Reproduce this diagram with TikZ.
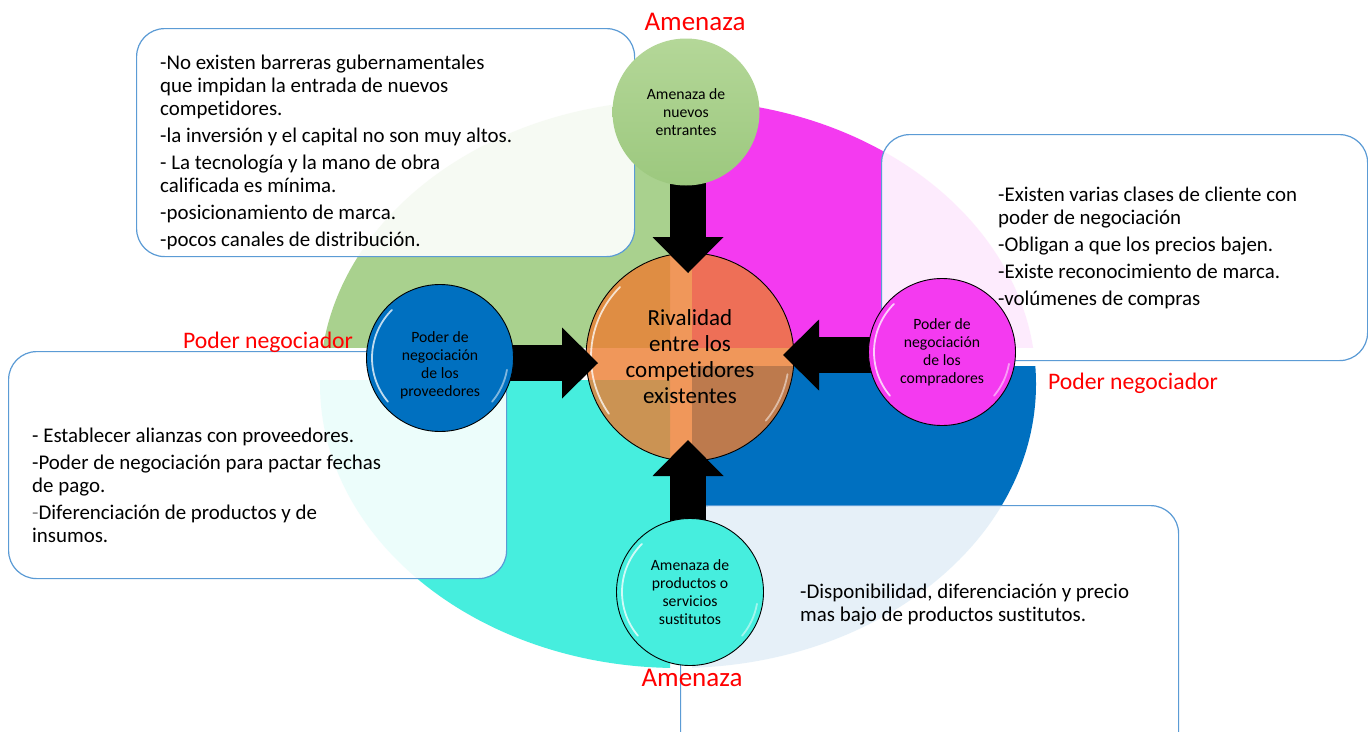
\documentclass[tikz,border=0pt]{standalone}
\usepackage{fontspec}
\setmainfont{Carlito}[Ligatures=NoCommon]
\usetikzlibrary{arrows.meta,calc}
\definecolor{qgreen}{RGB}{169,209,142}
\definecolor{qmag}{RGB}{244,58,240}
\definecolor{qcyan}{RGB}{70,238,222}
\definecolor{qblue}{RGB}{0,112,192}
\definecolor{rivorange}{RGB}{237,125,49}
\definecolor{boxline}{RGB}{91,155,213}
\definecolor{gtop}{RGB}{180,215,152}
\definecolor{gbot}{RGB}{156,200,126}
\pgfdeclarelayer{bgA}
\pgfdeclarelayer{bgB}
\pgfdeclarelayer{bgC}
\pgfdeclarelayer{bgD}
\pgfsetlayers{bgA,bgB,bgC,bgD,main}
\tikzset{
  infobox/.style={draw=boxline, line width=1.2pt, fill=white, fill opacity=0.9,
    rounded corners=28pt, rectangle, anchor=north west, inner sep=0pt},
  boxtext/.style={anchor=north west, align=left, inner sep=0pt,
    font=\fontsize{20.9}{23}\selectfont},
  redlabel/.style={text=red, inner sep=0pt},
  forcetext/.style={align=center, inner sep=0pt, font=\fontsize{15.7}{18}\selectfont},
  force/.style={circle, draw=black, line width=0.9pt, minimum size=147pt,
    inner sep=0pt, forcetext},
  gloss/.style={white, opacity=0.75, line width=1.8pt, line cap=round},
  forcearrow/.style={line width=36pt,
    -{Triangle[length=36pt 0 0, width=71pt 0 0, line width=0pt]}}
}
\begin{document}
\begin{tikzpicture}[x=1pt,y=-1pt]
\useasboundingbox (0,0) rectangle (1368,731);

% background disc split into four coloured quadrants
\begin{pgfonlayer}{bgA}
  \fill[white] (0,0) rectangle (1368,731);
  \begin{scope}
    \clip (0,0) rectangle (670,347);
    \fill[qgreen] (678,384) ellipse [x radius=358, y radius=284];
  \end{scope}
  \begin{scope}
    \clip (692,0) rectangle (1368,347);
    \fill[qmag] (678,384) ellipse [x radius=358, y radius=284];
  \end{scope}
  \begin{scope}
    \clip (0,380) rectangle (670,731);
    \fill[qcyan] (678,384) ellipse [x radius=358, y radius=284];
  \end{scope}
  \begin{scope}
    \clip (692,366) rectangle (1368,731);
    \fill[qblue] (678,384) ellipse [x radius=358, y radius=284];
  \end{scope}
\end{pgfonlayer}

% translucent text panels
\begin{pgfonlayer}{bgB}
  \node[infobox, minimum width=498pt, minimum height=228pt] (boxN) at (136,28) {};
  \node[infobox, minimum width=486pt, minimum height=226pt] (boxE) at (881,134) {};
  \node[infobox, minimum width=498pt, minimum height=227pt] (boxW) at (8,351) {};
  \node[infobox, minimum width=498pt, minimum height=260pt] (boxS) at (680,505) {};
\end{pgfonlayer}

% central rivalry circle
\begin{pgfonlayer}{bgC}
  \node[circle, draw=black, line width=0.9pt, fill=rivorange, fill opacity=0.8,
    text opacity=1, minimum size=208pt, inner sep=0pt, align=center,
    font=\fontsize{23}{26}\selectfont] (riv) at (690,357)
    {Rivalidad\\entre los\\competidores\\existentes};
  \draw[gloss] ($(riv.center)+(145:99)$) arc[start angle=145, end angle=225, radius=99];
  \draw[gloss, opacity=0.5] ($(riv.center)+(10:99)$) arc[start angle=10, end angle=40, radius=99];
\end{pgfonlayer}

% the four forces
\node[force, draw=none, top color=gtop, bottom color=gbot] (nA) at (686,112)
  {Amenaza de\\nuevos\\entrantes};
\node[force, fill=qblue] (nP) at (440,358) {};
\node[forcetext] (nPtext) at ([yshift=-7pt]nP.center)
  {Poder de\\negociación\\de los\\proveedores};
\node[force, fill=qmag] (nC) at (942,352)
  {Poder de\\negociación\\de los\\compradores};
\node[force, fill=qcyan] (nS) at (690,592)
  {Amenaza de\\productos o\\servicios\\sustitutos};

\foreach \n in {nP,nC,nS}{
  \draw[gloss] ($(\n.center)+(140:68)$) arc[start angle=140, end angle=225, radius=68];
  \draw[gloss, opacity=0.5] ($(\n.center)+(10:68)$) arc[start angle=10, end angle=40, radius=68];
}

% arrows pointing to the centre
\coordinate (tipN) at (688,273);
\coordinate (tipW) at (598,363);
\coordinate (tipE) at (783,355);
\coordinate (tipS) at (688,440);
\begin{pgfonlayer}{bgD}
  \draw[forcearrow] (tipN |- nA.center) -- (tipN);
  \draw[forcearrow] (tipW -| nP.center) -- (tipW);
  \draw[forcearrow] (tipE -| nC.center) -- (tipE);
  \draw[forcearrow] (tipS |- nS.center) -- (tipS);
\end{pgfonlayer}

% red headings
\node[redlabel, font=\fontsize{27}{30}\selectfont] (hN) at (695,22) {Amenaza};
\node[redlabel, font=\fontsize{23.7}{28}\selectfont] (hW) at (268,342) {Poder negociador};
\node[redlabel, font=\fontsize{23.7}{28}\selectfont] (hE) at (1133,383) {Poder negociador};
\node[redlabel, font=\fontsize{27}{30}\selectfont] (hS) at (692,678) {Amenaza};

% panel texts
\node[boxtext] (tN) at (160,55) {%
  -No existen barreras gubernamentales\\
  que impidan la entrada de nuevos\\
  competidores.\\[4pt]
  -la inversión y el capital no son muy altos.\\[4pt]
  - La tecnología y la mano de obra\\
  calificada es mínima.\\[4pt]
  -posicionamiento de marca.\\[4pt]
  -pocos canales de distribución.};
\node[boxtext] (tE) at (998,187) {%
  -Existen varias clases de cliente con\\
  poder de negociación\\[4pt]
  -Obligan a que los precios bajen.\\[4pt]
  -Existe reconocimiento de marca.\\[4pt]
  -volúmenes de compras};
\node[boxtext] (tW) at (32,428) {%
  - Establecer alianzas con proveedores.\\[4pt]
  -Poder de negociación para pactar fechas\\
  de pago.\\[4pt]
  {\color{gray}-}Diferenciación de productos y de\\
  insumos.};
\node[boxtext] (tS) at (800,584) {%
  -Disponibilidad, diferenciación y precio\\
  mas bajo de productos sustitutos.};
\end{tikzpicture}
\end{document}
